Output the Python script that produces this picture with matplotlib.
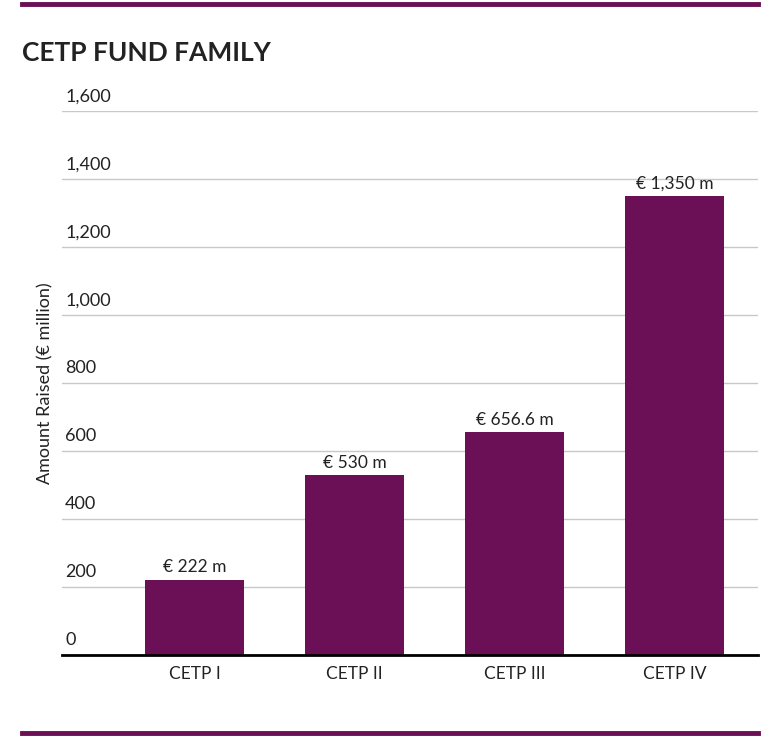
import matplotlib.pyplot as plt

plt.rcParams['font.family'] = ['Lato', 'DejaVu Sans']

funds = ['CETP I', 'CETP II', 'CETP III', 'CETP IV']
amounts = [222, 530, 656.6, 1350]
labels = ['€ 222 m', '€ 530 m', '€ 656.6 m', '€ 1,350 m']
yticks = [0, 200, 400, 600, 800, 1000, 1200, 1400, 1600]

purple = '#6b0f57'

fig = plt.figure(figsize=(7.8, 7.45), dpi=100)
ax = fig.add_axes([62 / 780, 1 - 655 / 745, 696 / 780, 544 / 745])

x = range(len(funds))
ax.bar(x, amounts, width=0.62, color=purple, zorder=3)
for i, (v, lab) in enumerate(zip(amounts, labels)):
    ax.text(i, v + 12, lab, ha='center', va='bottom', fontsize=12.5, color='#222222')

ax.set_xlim(-0.83, 3.52)
ax.set_ylim(0, 1600)
ax.set_yticks(yticks)
ax.set_yticklabels([])
ax.tick_params(axis='y', length=0)
ax.tick_params(axis='x', length=0, labelsize=12.5, pad=8)
ax.set_xticks(list(x))
ax.set_xticklabels(funds, color='#222222')
ax.grid(axis='y', color='#c8c8c8', linewidth=1, zorder=0)
for t in yticks:
    ax.text(-0.81, t + 20, f'{t:,}', ha='left', va='bottom', fontsize=13, color='#222222')
for s in ['top', 'right', 'left']:
    ax.spines[s].set_visible(False)
ax.spines['bottom'].set_linewidth(2)
ax.spines['bottom'].set_color('black')
ax.spines['bottom'].set_zorder(4)

fig.text(45 / 780, 1 - 383 / 745, 'Amount Raised (€ million)', rotation=90,
         ha='center', va='center', fontsize=13, color='#222222')
fig.text(22 / 780, 1 - 53 / 745, 'CETP FUND FAMILY', ha='left', va='center',
         fontsize=19, fontweight='bold', color='#222222')

fig.add_artist(plt.Line2D([22 / 780, 758 / 780], [1 - 4 / 745] * 2, color=purple, lw=3.5))
fig.add_artist(plt.Line2D([22 / 780, 758 / 780], [1 - 733 / 745] * 2, color=purple, lw=3.5))

fig.savefig('out.png', dpi=100)
